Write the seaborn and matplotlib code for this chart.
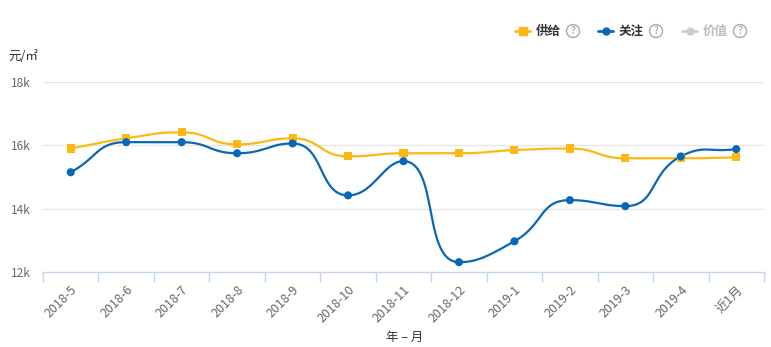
import numpy as np
import pandas as pd
import matplotlib
matplotlib.use("Agg")
import matplotlib.pyplot as plt
from matplotlib.lines import Line2D
from matplotlib.patches import Circle
import seaborn as sns

categories = ["2018-5", "2018-6", "2018-7", "2018-8", "2018-9", "2018-10", "2018-11",
              "2018-12", "2019-1", "2019-2", "2019-3", "2019-4", "近1月"]
supply = [15.90, 16.22, 16.41, 16.03, 16.22, 15.65, 15.75, 15.75, 15.85, 15.90, 15.59, 15.59, 15.62]
attention = [15.15, 16.10, 16.10, 15.75, 16.06, 14.42, 15.50, 12.31, 12.97, 14.27, 14.08, 15.65, 15.88]
yticks = [12, 14, 16, 18]
ytick_labels = ["12k", "14k", "16k", "18k"]
series_names = ["供给", "关注", "价值"]

YELLOW = "#FDB913"
BLUE = "#0868B5"
GRAY = "#CCCCCC"

sns.set_theme(style="white")
plt.rcParams["font.family"] = ["Noto Sans CJK SC", "DejaVu Sans"]

W, H = 771, 347
fig = plt.figure(figsize=(W / 100, H / 100), dpi=100)
ax = fig.add_axes([43 / W, 1 - 272 / H, (764 - 43) / W, (272 - 82) / H])


def smooth_curve(yvals, sx=55.5, sy=31.7, smooth=0.5, n=30):
    x = np.arange(len(yvals), dtype=float)
    y = np.asarray(yvals, dtype=float)
    px, py = x * sx, y * sy
    m = len(y)
    cin, cout = [], []
    for i in range(m):
        pi = max(i - 1, 0)
        ni = min(i + 1, m - 1)
        vx = px[ni] - px[pi]
        vy = py[ni] - py[pi]
        if 0 < i < m - 1 and (y[i] - y[pi]) * (y[i] - y[ni]) >= 0:
            vy = 0.0
        l0 = np.hypot(px[i] - px[pi], py[i] - py[pi])
        l1 = np.hypot(px[ni] - px[i], py[ni] - py[i])
        tot = l0 + l1 if l0 + l1 > 0 else 1
        r1 = l1 / tot
        r0 = l0 / tot
        cout.append((px[i] + vx * smooth * r1, py[i] + vy * smooth * r1))
        cin.append((px[i] - vx * smooth * r0, py[i] - vy * smooth * r0))
    xs, ys = [], []
    t = np.linspace(0, 1, n)
    for i in range(m - 1):
        p0 = np.array([px[i], py[i]])
        p1 = np.array(cout[i])
        p2 = np.array(cin[i + 1])
        p3 = np.array([px[i + 1], py[i + 1]])
        b = ((1 - t) ** 3)[:, None] * p0 + (3 * (1 - t) ** 2 * t)[:, None] * p1 \
            + (3 * (1 - t) * t ** 2)[:, None] * p2 + (t ** 3)[:, None] * p3
        xs.extend(b[:, 0] / sx)
        ys.extend(b[:, 1] / sy)
    return np.array(xs), np.array(ys)


# grid
for yt in yticks[1:]:
    ax.axhline(yt, color="#E6E6E6", lw=1, zorder=0)

# smooth lines
for vals, col in [(supply, YELLOW), (attention, BLUE)]:
    sx_, sy_ = smooth_curve(vals)
    ax.plot(sx_, sy_, color=col, lw=1.6, zorder=2, solid_capstyle="round")

df = pd.DataFrame({
    "x": list(range(len(categories))) * 2,
    "value": supply + attention,
    "series": ["供给"] * len(categories) + ["关注"] * len(categories),
})
sns.scatterplot(data=df, x="x", y="value", hue="series", style="series",
                palette={"供给": YELLOW, "关注": BLUE},
                markers={"供给": "s", "关注": "o"},
                s=34, linewidth=0, legend=False, ax=ax, zorder=3)

ax.set_xlim(-0.5, len(categories) - 0.5)
ax.set_ylim(12, 18)
ax.set_xlabel("")
ax.set_ylabel("")

for s in ["top", "right", "left"]:
    ax.spines[s].set_visible(False)
ax.spines["bottom"].set_color("#C5D5EA")
ax.spines["bottom"].set_linewidth(1)

ax.set_yticks(yticks)
ax.set_yticklabels(ytick_labels, fontsize=8.5, color="#666666")
ax.tick_params(axis="y", length=0, pad=9)

ax.set_xticks(np.arange(len(categories)))
ax.set_xticklabels(categories, rotation=45, ha="right", rotation_mode="anchor",
                   fontsize=9, color="#666666")
ax.tick_params(axis="x", which="major", length=0, pad=8)
# boundary ticks
ax.set_xticks(np.arange(len(categories) + 1) - 0.5, minor=True)
ax.tick_params(axis="x", which="minor", bottom=True, length=7, color="#C5D5EA",
               width=1, direction="out")

fig.text(405 / W, 1 - 337 / H, "年 – 月", ha="center", va="center", fontsize=9, color="#333333")
fig.text(8 / W, 1 - 57 / H, "元/㎡", ha="left", va="center", fontsize=9, color="#333333")

# legend
def legend_item(x0, name, col, marker, textcol):
    yy = 1 - 31 / H
    fig.add_artist(Line2D([x0 / W, (x0 + 15) / W], [yy, yy], color=col, lw=2,
                          transform=fig.transFigure))
    fig.add_artist(Line2D([(x0 + 7.5) / W], [yy], marker=marker, color=col,
                          markersize=5 if marker == "o" else 5.5, lw=0,
                          transform=fig.transFigure))
    fig.text((x0 + 21) / W, yy, name, ha="left", va="center", fontsize=9,
             color=textcol, fontweight="bold")
    cx = x0 + 58
    fig.add_artist(Circle((cx, H - 31), 6.5, transform=None, fill=False,
                          edgecolor="#AAAAAA", lw=1))
    fig.text(cx / W, yy, "?", ha="center", va="center", fontsize=7.5, color="#999999")

legend_item(515, series_names[0], YELLOW, "s", "#333333")
legend_item(598, series_names[1], BLUE, "o", "#333333")
legend_item(682, series_names[2], GRAY, "o", "#BBBBBB")

fig.savefig("out.png", dpi=100, facecolor="white")
